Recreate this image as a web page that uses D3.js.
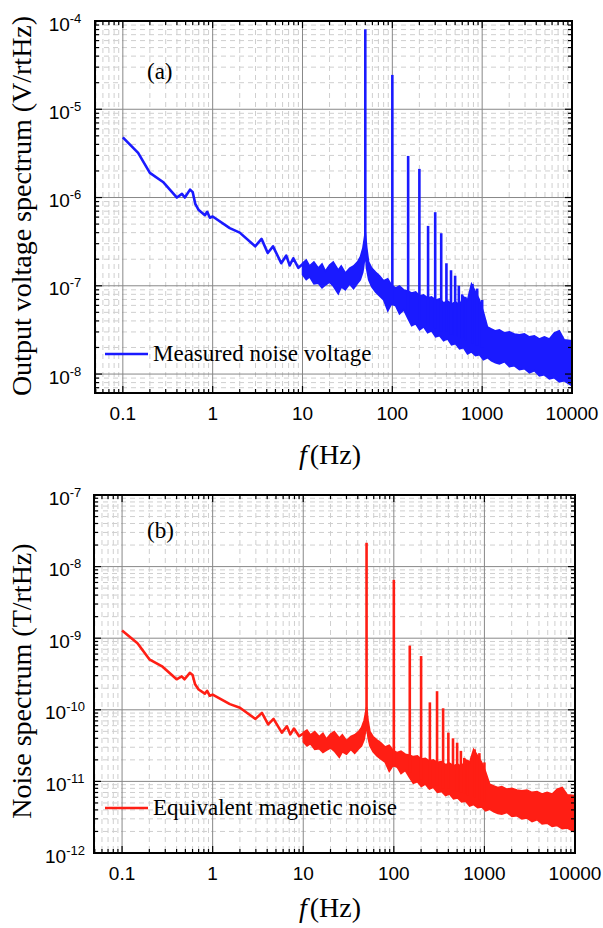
<!DOCTYPE html>
<html><head><meta charset="utf-8">
<script src="https://cdn.jsdelivr.net/npm/d3@7"></script>
<style>body{margin:0;background:#fff}svg{display:block}</style>
</head><body>
<script>
// ---------- DATA ----------
const lowFreq = [0.1,0.148,0.2,0.28,0.4,0.455,0.49,0.56,0.6,0.64,0.7,0.82,0.87,0.93,1.0,1.55,2.0,2.97,3.5,4.1,4.7,5.8,6.6,7.2,7.9,9.0,10];
const lowVolt = [4.8e-6,3.2e-6,1.9e-6,1.5e-6,1.0e-6,1.1e-6,1.0e-6,1.23e-6,1.15e-6,8.5e-7,7.2e-7,6.3e-7,6.9e-7,5.9e-7,6.1e-7,4.5e-7,4.0e-7,2.8e-7,3.4e-7,2.35e-7,2.8e-7,1.8e-7,2.2e-7,1.7e-7,2.05e-7,1.6e-7,1.75e-7];
const lowMag = [1.28e-9,8.53e-10,5.07e-10,4.0e-10,2.67e-10,2.93e-10,2.67e-10,3.28e-10,3.07e-10,2.27e-10,1.92e-10,1.68e-10,1.84e-10,1.57e-10,1.63e-10,1.2e-10,1.07e-10,7.47e-11,9.07e-11,6.27e-11,7.47e-11,4.8e-11,5.87e-11,4.53e-11,5.47e-11,4.27e-11,4.67e-11];

const bandFreq = [10,11,12,13.4,15,16.5,18,20,22,25,27,30,33.5,37,41,44,47,50,52,54.5,59,65,72,80,89,98,109,120,134,148,164,182,201,223,247,273,303,336,372,411,456,505,560,620,687,760,843,933,1033,1145,1268,1405,1556,1770,2010,2285,2597,2950,3355,3810,4330,4920,5595,6355,7225,8205,10000];
const bandVoltHi = [1.81e-7,1.96e-7,1.68e-7,1.87e-7,1.59e-7,1.77e-7,1.47e-7,1.72e-7,1.87e-7,1.51e-7,1.68e-7,1.40e-7,1.59e-7,1.68e-7,1.87e-7,2.12e-7,2.69e-7,4.07e-7,2.69e-7,1.87e-7,1.59e-7,1.43e-7,1.30e-7,1.14e-7,1.20e-7,1.02e-7,9.47e-8,9.94e-8,8.99e-8,8.76e-8,8.31e-8,8.53e-8,7.69e-8,7.89e-8,7.29e-8,7.49e-8,6.92e-8,7.10e-8,6.41e-8,6.74e-8,6.24e-8,6.57e-8,6.08e-8,7.49e-8,6.92e-8,1.05e-7,8.53e-8,6.92e-8,5.06e-8,3.43e-8,3.25e-8,3.09e-8,3.17e-8,2.93e-8,3.01e-8,2.85e-8,2.78e-8,2.85e-8,2.64e-8,2.71e-8,2.50e-8,2.64e-8,2.50e-8,2.93e-8,3.09e-8,2.44e-8,2.38e-8];
const bandVoltLo = [1.33e-7,1.17e-7,1.26e-7,1.05e-7,1.07e-7,9.47e-8,1.02e-7,1.10e-7,9.94e-8,8.10e-8,9.72e-8,8.99e-8,1.05e-7,9.23e-8,1.07e-7,1.17e-7,1.43e-7,2.24e-7,1.51e-7,1.17e-7,9.72e-8,8.53e-8,7.69e-8,6.92e-8,5.19e-8,6.24e-8,5.92e-8,4.80e-8,5.33e-8,4.33e-8,3.52e-8,3.71e-8,3.17e-8,3.43e-8,2.93e-8,3.09e-8,2.64e-8,2.71e-8,2.38e-8,2.50e-8,2.14e-8,2.20e-8,1.93e-8,1.98e-8,1.69e-8,1.78e-8,1.61e-8,1.65e-8,1.45e-8,1.53e-8,1.41e-8,1.34e-8,1.30e-8,1.38e-8,1.21e-8,1.24e-8,1.12e-8,1.15e-8,1.03e-8,1.09e-8,9.55e-9,9.8e-9,8.83e-9,9.06e-9,8.16e-9,8.38e-9,7.36e-9];
const bandMagHi = [4.83e-11,5.23e-11,4.48e-11,4.99e-11,4.24e-11,4.72e-11,3.92e-11,4.59e-11,4.99e-11,4.03e-11,4.48e-11,3.73e-11,4.24e-11,4.48e-11,4.99e-11,5.65e-11,7.17e-11,1.09e-10,7.17e-11,4.99e-11,4.24e-11,3.81e-11,3.47e-11,3.04e-11,3.20e-11,2.72e-11,2.53e-11,2.65e-11,2.40e-11,2.34e-11,2.22e-11,2.27e-11,2.05e-11,2.10e-11,1.94e-11,2.00e-11,1.85e-11,1.89e-11,1.71e-11,1.80e-11,1.66e-11,1.75e-11,1.62e-11,2.00e-11,1.85e-11,2.80e-11,2.27e-11,1.85e-11,1.35e-11,9.15e-12,8.67e-12,8.24e-12,8.45e-12,7.81e-12,8.03e-12,7.60e-12,7.41e-12,7.60e-12,7.04e-12,7.23e-12,6.67e-12,7.04e-12,6.67e-12,7.81e-12,8.24e-12,6.51e-12,6.35e-12];
const bandMagLo = [3.55e-11,3.12e-11,3.36e-11,2.80e-11,2.85e-11,2.53e-11,2.72e-11,2.93e-11,2.65e-11,2.16e-11,2.59e-11,2.40e-11,2.80e-11,2.46e-11,2.85e-11,3.12e-11,3.81e-11,5.97e-11,4.03e-11,3.12e-11,2.59e-11,2.27e-11,2.05e-11,1.85e-11,1.38e-11,1.66e-11,1.58e-11,1.28e-11,1.42e-11,1.15e-11,9.39e-12,9.89e-12,8.45e-12,9.15e-12,7.81e-12,8.24e-12,7.04e-12,7.23e-12,6.35e-12,6.67e-12,5.71e-12,5.87e-12,5.15e-12,5.28e-12,4.51e-12,4.75e-12,4.29e-12,4.40e-12,3.87e-12,4.08e-12,3.76e-12,3.57e-12,3.47e-12,3.68e-12,3.23e-12,3.31e-12,2.99e-12,3.07e-12,2.75e-12,2.91e-12,2.55e-12,2.61e-12,2.35e-12,2.42e-12,2.18e-12,2.23e-12,1.96e-12];

const peakFreq = [50,100,150,200,250,300,350,400,450,500,550,600,650,780,880,1000];
const peakVolt = [8.05e-5,2.45e-5,2.96e-6,2.11e-6,4.77e-7,6.82e-7,3.94e-7,1.8e-7,1.5e-7,1.3e-7,1.0e-7,8e-8,7.5e-8,1.05e-7,9.3e-8,6.9e-8];
const peakVoltBase = [2.24e-7,6e-8,5e-8,4e-8,3.5e-8,3.3e-8,3e-8,3e-8,2.8e-8,2.7e-8,2.6e-8,2.5e-8,2.4e-8,2.2e-8,2.1e-8,2e-8];
const peakMag = [2.15e-8,6.53e-9,7.89e-10,5.63e-10,1.27e-10,1.82e-10,1.05e-10,4.8e-11,4.0e-11,3.47e-11,2.67e-11,2.13e-11,2.0e-11,2.8e-11,2.48e-11,1.84e-11];
const peakMagBase = [5.97e-11,1.6e-11,1.33e-11,1.07e-11,9.3e-12,8.8e-12,8e-12,8e-12,7.5e-12,7.2e-12,6.9e-12,6.7e-12,6.4e-12,5.9e-12,5.6e-12,5.3e-12];

const xTickValues = [0.1,1,10,100,1000,10000];
const xTickLabels = ["0.1","1","10","100","1000","10000"];
const yTickExpVolt = [-8,-7,-6,-5,-4];
const yTickExpMag = [-12,-11,-10,-9,-8,-7];

// ---------- DRAW ----------
const svg = d3.select("body").append("svg").attr("width",603).attr("height",928);
const SANS = "'Liberation Sans', Arial, sans-serif";
const SERIF = "'Liberation Serif', 'Times New Roman', serif";

function drawPanel(o) {
  const g = svg.append("g");
  const x = d3.scaleLog().domain([0.049, 10000]).range([o.left, o.right]);
  const y = d3.scaleLog().domain(o.yDomain).range([o.bottom, o.top]);
  const isMajor = v => Math.abs(Math.log10(v) - Math.round(Math.log10(v))) < 1e-6;
  const xt = x.ticks(), yt = y.ticks();

  // minor grid
  const grid = g.append("g");
  grid.selectAll(".xm").data(xt.filter(v => !isMajor(v))).join("line")
    .attr("x1", d => x(d)).attr("x2", d => x(d)).attr("y1", o.top).attr("y2", o.bottom)
    .attr("stroke", "#cfcfcf").attr("stroke-width", 1).attr("stroke-dasharray", "5,4");
  grid.selectAll(".ym").data(yt.filter(v => !isMajor(v))).join("line")
    .attr("y1", d => y(d)).attr("y2", d => y(d)).attr("x1", o.left).attr("x2", o.right)
    .attr("stroke", "#cfcfcf").attr("stroke-width", 1).attr("stroke-dasharray", "5,4");
  // major grid
  grid.selectAll(".xM").data(xt.filter(isMajor)).join("line")
    .attr("x1", d => x(d)).attr("x2", d => x(d)).attr("y1", o.top).attr("y2", o.bottom)
    .attr("stroke", "#888").attr("stroke-width", 1);
  grid.selectAll(".yM").data(yt.filter(isMajor)).join("line")
    .attr("y1", d => y(d)).attr("y2", d => y(d)).attr("x1", o.left).attr("x2", o.right)
    .attr("stroke", "#888").attr("stroke-width", 1);

  // data
  const clipId = "clip" + o.id;
  svg.append("clipPath").attr("id", clipId).append("rect")
    .attr("x", o.left).attr("y", o.top).attr("width", o.right - o.left).attr("height", o.bottom - o.top);
  const dg = g.append("g").attr("clip-path", `url(#${clipId})`);

  const lowPts = o.lowFreq.map((f, i) => [f, o.lowVal[i]]);
  dg.append("path").datum(lowPts)
    .attr("d", d3.line().x(d => x(d[0])).y(d => y(d[1])))
    .attr("fill", "none").attr("stroke", o.color).attr("stroke-width", 2.6).attr("stroke-linejoin", "round");

  const bandPts = o.bandFreq.map((f, i) => [f, o.bandLo[i], o.bandHi[i]]);
  dg.append("path").datum(bandPts)
    .attr("d", d3.area().x(d => x(d[0])).y0(d => y(d[1])).y1(d => y(d[2])))
    .attr("fill", o.color).attr("stroke", o.color).attr("stroke-width", 1.5).attr("stroke-linejoin", "miter");

  dg.selectAll(".peak").data(o.peakFreq.map((f, i) => [f, o.peakBase[i], o.peakVal[i]])).join("line")
    .attr("x1", d => x(d[0])).attr("x2", d => x(d[0]))
    .attr("y1", d => y(d[1])).attr("y2", d => y(d[2]))
    .attr("stroke", o.color).attr("stroke-width", 2.6);

  // frame
  g.append("rect").attr("x", o.left).attr("y", o.top)
    .attr("width", o.right - o.left).attr("height", o.bottom - o.top)
    .attr("fill", "none").attr("stroke", "#000").attr("stroke-width", 2);

  // ticks (inward on all sides)
  const tk = g.append("g").attr("stroke", "#000").attr("stroke-width", 1.2);
  xt.forEach(v => {
    const L = isMajor(v) ? 7 : 4, px = x(v);
    tk.append("line").attr("x1", px).attr("x2", px).attr("y1", o.bottom).attr("y2", o.bottom - L);
    tk.append("line").attr("x1", px).attr("x2", px).attr("y1", o.top).attr("y2", o.top + L);
  });
  yt.forEach(v => {
    const L = isMajor(v) ? 7 : 4, py = y(v);
    tk.append("line").attr("y1", py).attr("y2", py).attr("x1", o.left).attr("x2", o.left + L);
    tk.append("line").attr("y1", py).attr("y2", py).attr("x1", o.right).attr("x2", o.right - L);
  });

  // tick labels
  xTickValues.forEach((v, i) => {
    g.append("text").attr("x", x(v)).attr("y", o.bottom + 27)
      .attr("text-anchor", "middle").style("font-family", SANS).style("font-size", "19px")
      .text(xTickLabels[i]);
  });
  o.yExps.forEach(e => {
    const t = g.append("text").attr("x", 65).attr("y", y(Math.pow(10, e)) + 9.5)
      .attr("text-anchor", "middle").style("font-family", SANS).style("font-size", "19px");
    t.append("tspan").text("10");
    t.append("tspan").attr("dy", -8).style("font-size", "13px").text(String(e));
  });

  // axis titles
  g.append("text").attr("transform", `translate(31,${o.yTitleY}) rotate(-90)`)
    .attr("text-anchor", "middle").style("font-family", SERIF).style("font-size", "28px")
    .text(o.yTitle);
  const xt2 = g.append("text").attr("x", 330).attr("y", o.xTitleY)
    .attr("text-anchor", "middle").style("font-family", SERIF).style("font-size", "28px");
  xt2.append("tspan").style("font-style", "italic").text("f");
  xt2.append("tspan").attr("dx", 3).text("(Hz)");

  // panel label
  g.append("text").attr("x", 147).attr("y", o.top + o.tagDy)
    .style("font-family", SERIF).style("font-size", "23px").text(o.tag);

  // legend
  g.append("line").attr("x1", 105).attr("x2", 148).attr("y1", o.legY).attr("y2", o.legY)
    .attr("stroke", o.color).attr("stroke-width", 2.6);
  g.append("text").attr("x", 153).attr("y", o.legY + 7)
    .style("font-family", SERIF).style("font-size", "23px").text(o.legend);
}

drawPanel({
  id: "a", left: 95, right: 572, top: 21, bottom: 393,
  yDomain: [6.1e-9, 1e-4], yExps: yTickExpVolt,
  lowFreq: lowFreq, lowVal: lowVolt,
  bandFreq: bandFreq, bandHi: bandVoltHi, bandLo: bandVoltLo,
  peakFreq: peakFreq, peakVal: peakVolt, peakBase: peakVoltBase,
  color: "#1a1aff",
  yTitle: "Output voltage spectrum (V/rtHz)", yTitleY: 206, xTitleY: 464,
  tag: "(a)", tagDy: 58, legY: 354, legend: "Measured noise voltage"
});

drawPanel({
  id: "b", left: 94, right: 575, top: 495, bottom: 853,
  yDomain: [1e-12, 1e-7], yExps: yTickExpMag,
  lowFreq: lowFreq, lowVal: lowMag,
  bandFreq: bandFreq, bandHi: bandMagHi, bandLo: bandMagLo,
  peakFreq: peakFreq, peakVal: peakMag, peakBase: peakMagBase,
  color: "#ff1e14",
  yTitle: "Noise spectrum (T/rtHz)", yTitleY: 681, xTitleY: 917,
  tag: "(b)", tagDy: 43, legY: 808, legend: "Equivalent magnetic noise"
});
</script>
</body></html>
